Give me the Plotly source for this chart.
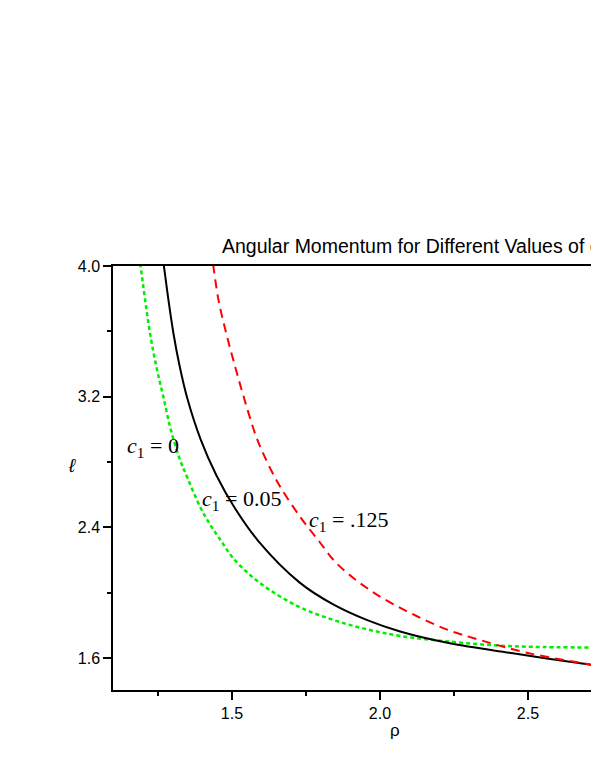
import plotly.graph_objects as go

# data
rho_c0 = [1.183, 1.191, 1.222, 1.245, 1.268, 1.293, 1.323, 1.350, 1.392, 1.425, 1.462, 1.500,
          1.560, 1.628, 1.730, 1.842, 1.955, 2.068, 2.236, 2.400, 2.550, 2.800]
ell_c0 = [4.100, 4.000, 3.600, 3.380, 3.200, 3.000, 2.820, 2.700, 2.527, 2.420, 2.320, 2.220,
          2.110, 2.016, 1.910, 1.833, 1.776, 1.735, 1.700, 1.676, 1.667, 1.664]

rho_c005 = [1.263, 1.270, 1.285, 1.302, 1.322, 1.349, 1.394, 1.448, 1.510, 1.589, 1.730, 1.842,
            1.955, 2.068, 2.236, 2.449, 2.740, 2.800]
ell_c005 = [4.095, 4.000, 3.796, 3.590, 3.397, 3.190, 2.939, 2.716, 2.517, 2.316, 2.060, 1.928,
            1.833, 1.762, 1.690, 1.629, 1.551, 1.538]

rho_c0125 = [1.429, 1.437, 1.454, 1.480, 1.510, 1.542, 1.581, 1.606, 1.656, 1.730, 1.792, 1.848,
             1.910, 1.966, 2.034, 2.120, 2.225, 2.338, 2.496, 2.720, 2.800]
ell_c0125 = [4.100, 4.000, 3.796, 3.592, 3.388, 3.184, 2.959, 2.850, 2.670, 2.465, 2.320, 2.190,
             2.090, 2.016, 1.940, 1.860, 1.775, 1.710, 1.632, 1.557, 1.535]

x_ticks = [1.5, 2.0, 2.5]
x_minor = [1.25, 1.75, 2.25]
y_ticks = [1.6, 2.4, 3.2, 4.0]
y_minor = [2.0, 2.8, 3.6]

fig = go.Figure()
fig.add_trace(go.Scatter(x=rho_c0, y=ell_c0, mode="lines", line_shape="spline",
                         line=dict(color="#00ee00", width=2.5, dash="4px,3px")))
fig.add_trace(go.Scatter(x=rho_c005, y=ell_c005, mode="lines", line_shape="spline",
                         line=dict(color="black", width=2)))
fig.add_trace(go.Scatter(x=rho_c0125, y=ell_c0125, mode="lines", line_shape="spline",
                         line=dict(color="#ff0000", width=2, dash="9px,6px")))

serif = dict(family="Liberation Serif", size=22, color="black")
fig.add_annotation(x=1.139, y=2.892, text="<i>c</i><sub>1</sub> = 0", showarrow=False,
                   xanchor="left", yanchor="middle", font=serif)
fig.add_annotation(x=1.392, y=2.568, text="<i>c</i><sub>1</sub> = 0.05", showarrow=False,
                   xanchor="left", yanchor="middle", font=serif)
fig.add_annotation(x=1.753, y=2.439, text="<i>c</i><sub>1</sub> = .125", showarrow=False,
                   xanchor="left", yanchor="middle", font=serif)

# axis labels
fig.add_annotation(x=(395 - 113) / 486, y=(690 - 730) / 424, xref="paper", yref="paper",
                   text="ρ", showarrow=False, xanchor="center", yanchor="middle",
                   font=dict(family="Liberation Sans", size=17, color="black"))
fig.add_annotation(x=(72 - 113) / 486, y=(690 - 465) / 424, xref="paper", yref="paper",
                   text="<i>ℓ</i>", showarrow=False, xanchor="center", yanchor="middle",
                   font=dict(family="Liberation Sans", size=19, color="black"))

# page body adds an 8px margin, so the figure is shifted; the plot runs off the right edge
fig.update_layout(
    width=591, height=740,
    margin=dict(l=105, r=0, t=258, b=58),
    paper_bgcolor="white", plot_bgcolor="white",
    showlegend=False,
    title=dict(text="Angular Momentum for Different Values of c<sub>1</sub>",
               x=(222 - 8) / 591, xref="container", xanchor="left",
               y=1 - (246 - 8) / 740, yref="container", yanchor="middle",
               font=dict(family="Liberation Sans", size=19.5, color="black")),
)
fig.update_xaxes(range=[1.098, 2.740], tickvals=x_ticks, ticktext=["1.5", "2.0", "2.5"],
                 showgrid=False, zeroline=False, showline=True, linecolor="black", linewidth=1.5,
                 mirror=True, ticks="outside", ticklen=8, tickwidth=1.5, tickcolor="black",
                 minor=dict(tickvals=x_minor, ticks="outside", ticklen=4,
                            tickwidth=1.5, tickcolor="black"),
                 tickfont=dict(family="Liberation Sans", size=16, color="black"))
fig.update_yaxes(range=[1.404, 4.0], tickvals=y_ticks, ticktext=["1.6", "2.4", "3.2", "4.0"],
                 showgrid=False, zeroline=False, showline=True, linecolor="black", linewidth=1.5,
                 ticks="outside", ticklen=8, tickwidth=1.5, tickcolor="black",
                 minor=dict(tickvals=y_minor, ticks="outside", ticklen=4,
                            tickwidth=1.5, tickcolor="black"),
                 tickfont=dict(family="Liberation Sans", size=16, color="black"))

fig.write_html("out.html")
